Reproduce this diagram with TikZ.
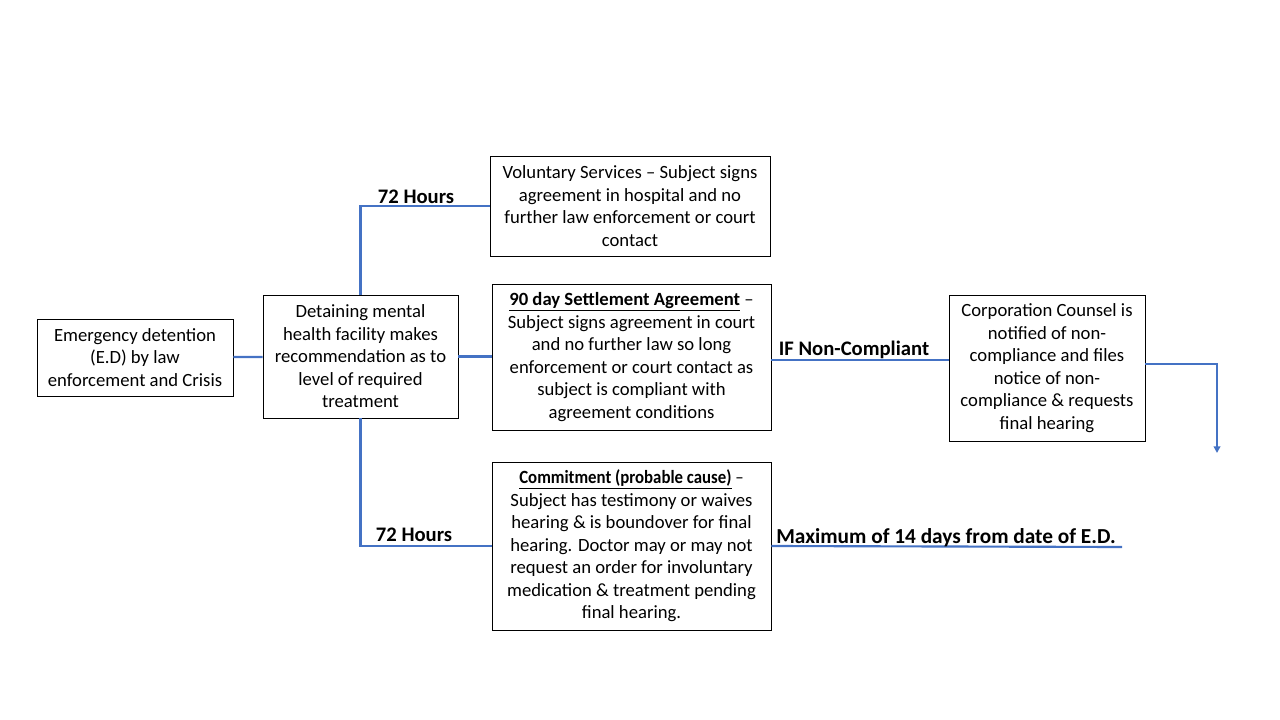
\documentclass[tikz,border=0pt]{standalone}
\usepackage{fontspec}
\setmainfont{Carlito}
\newfontfamily\condfont[FakeStretch=0.9,Ligatures=TeX]{Carlito}
\usepackage{xcolor}
\usepackage{tikz}
\usetikzlibrary{arrows.meta}
\definecolor{linkblue}{RGB}{68,114,196}

\begin{document}
\begin{tikzpicture}[
      x=0.75pt, y=-0.75pt,
      box/.style={draw, thin, inner sep=0pt, align=center,
                  font=\fontsize{14}{16.9}\selectfont},
      link/.style={draw=linkblue, line width=1.6pt},
      tag/.style={inner sep=0pt, font=\fontsize{15.5}{18}\selectfont\bfseries}
    ]
      \useasboundingbox (0,0) rectangle (1280,720);
      \node[box, minimum width=147pt, minimum height=57.75pt] (ed) at (135,357.5)
        {Emergency detention\\(E.D) by law\\enforcement and Crisis};
      \node[box, minimum width=146.25pt, minimum height=92.25pt] (det) at (360.5,356.5)
        {Detaining mental\\health facility makes\\recommendation as to\\level of required\\treatment};
      \node[box, minimum width=210pt, minimum height=75pt] (vol) at (630,206)
        {Voluntary Services \textendash{} Subject signs\\agreement in hospital and no\\further law enforcement or court\\contact};
      \node[box, minimum width=209.25pt, minimum height=109.5pt] (settle) at (631.5,357)
        {\underline{\textbf{90 day Settlement Agreement}} \textendash\\Subject signs agreement in court\\and no further law so long\\enforcement or court contact as\\subject is compliant with\\agreement conditions};
      \node[box, minimum width=209.25pt, minimum height=126pt] (commit) at (631.5,546)
        {\condfont\underline{\textbf{Commitment (probable cause)}} \textendash\\Subject has testimony or waives\\hearing \& is boundover for final\\hearing. Doctor may or may not\\request an order for involuntary\\medication \& treatment pending\\final hearing.};
      \node[box, minimum width=147pt, minimum height=109.5pt] (counsel) at (1047,368)
        {Corporation Counsel is\\notified of non-\\compliance and files\\notice of non-\\compliance \& requests\\final hearing};
      \coordinate (counselend) at (1217,453);
      \coordinate (maxend) at (1122,547);
      % connectors
      \draw[link] (ed) -- (det);
      \draw[link] (det.north) |- (vol.west);
      \draw[link] (det.east) -- (det.east -| settle.west);
      \draw[link] (det.south) |- (commit.west);
      \draw[link] ([yshift=-2.25pt]settle.east) -- ([yshift=-2.25pt]settle.east -| counsel.west);
      \draw[link, -{Triangle[width=5pt,length=5pt]}] ([yshift=3pt]counsel.east) -| (counselend);
      \draw[link] (commit.east) -- (maxend);
      % labels
      \node[tag] (hrsup)   at (416,197) {72 Hours};
      \node[tag] (hrsdown) at (414,535) {72 Hours};
      \node[tag] (noncomp) at (854,350) {IF Non-Compliant};
      \node[tag, font=\fontsize{16}{18}\selectfont\bfseries] (maxdays) at (946,538) {Maximum of 14 days from date of E.D.};
    \end{tikzpicture}
\end{document}
